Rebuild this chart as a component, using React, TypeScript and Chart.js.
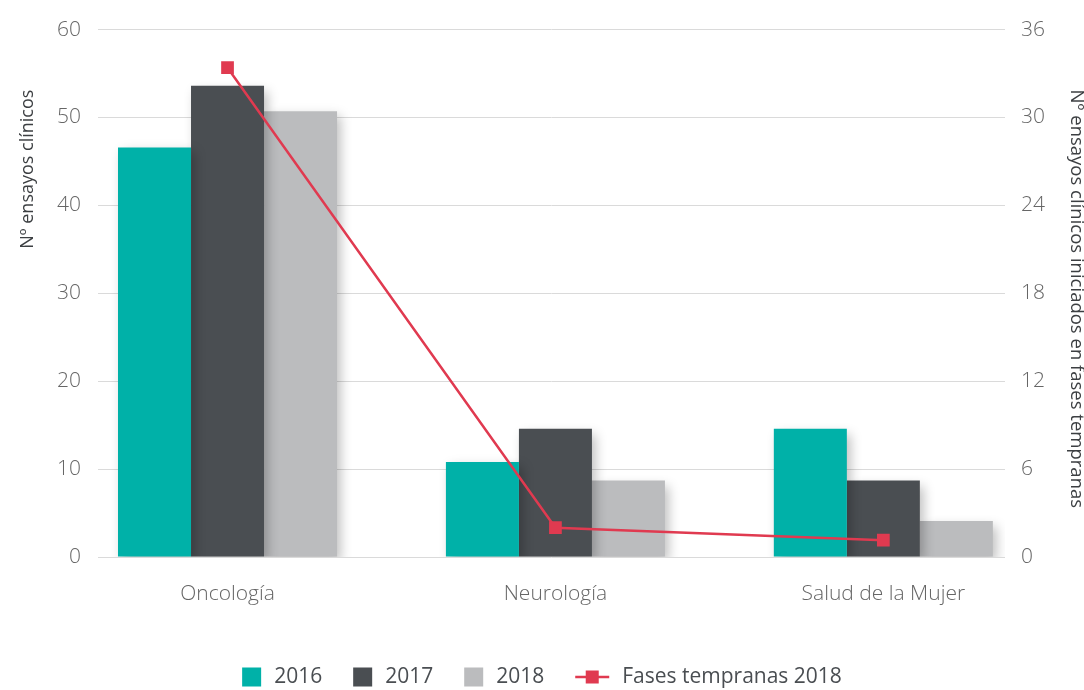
import React, { useEffect, useRef } from 'react';
import { Chart, registerables } from 'chart.js';

Chart.register(...registerables);

// ---------- data ----------
const CATEGORIES = ['Oncología', 'Neurología', 'Salud de la Mujer'];
const SERIES_LABELS = ['2016', '2017', '2018'];
const VALUES_2016 = [46.6, 10.8, 14.6];
const VALUES_2017 = [53.6, 14.6, 8.7];
const VALUES_2018 = [50.7, 8.7, 4.1];
const LINE_LABEL = 'Fases tempranas 2018';
const EARLY_PHASE_2018 = [33.4, 2.0, 1.15];
const LEFT_AXIS_TITLE = 'Nº ensayos clínicos';
const RIGHT_AXIS_TITLE = 'Nº ensayos clínicos iniciados en fases tempranas';
const LEFT_MAX = 60;
const LEFT_STEP = 10;
const RIGHT_MAX = 36;
const RIGHT_STEP = 6;

// ---------- style ----------
const FONT = '"Open Sans", "DejaVu Sans", sans-serif';
const COLORS = ['#00B1A8', '#4A4E52', '#BBBCBE'];
const RED = '#E03A50';
const GRID = '#DADADA';
const TICK_COLOR = '#666666';
const TEXT_COLOR = '#3c3f42';

const shadowPlugin = {
  id: 'barShadow',
  beforeDatasetDraw(chart: any, args: any) {
    const ds = chart.data.datasets[args.index];
    if (ds.type === 'line') return;
    const ctx = chart.ctx;
    ctx.save();
    ctx.shadowColor = 'rgba(0,0,0,0.26)';
    ctx.shadowBlur = 11;
    ctx.shadowOffsetX = 4;
    ctx.shadowOffsetY = 5;
  },
  afterDatasetDraw(chart: any, args: any) {
    const ds = chart.data.datasets[args.index];
    if (ds.type === 'line') return;
    chart.ctx.restore();
  },
};

const titlePlugin = {
  id: 'axisTitles',
  afterDraw(chart: any) {
    const ctx = chart.ctx;
    const top = chart.chartArea.top + 60;
    ctx.save();
    ctx.fillStyle = TEXT_COLOR;
    ctx.textBaseline = 'middle';
    // left
    ctx.save();
    ctx.font = `400 18px ${FONT}`;
    ctx.translate(28, top);
    ctx.rotate(-Math.PI / 2);
    ctx.textAlign = 'right';
    ctx.fillText(LEFT_AXIS_TITLE, 0, 0);
    ctx.restore();
    // right
    ctx.save();
    ctx.font = `400 18.5px ${FONT}`;
    ctx.translate(chart.width - 8, top);
    ctx.rotate(Math.PI / 2);
    ctx.textAlign = 'left';
    ctx.fillText(RIGHT_AXIS_TITLE, 0, 0);
    ctx.restore();
    ctx.restore();
  },
};

const legendPlugin = {
  id: 'bottomLegend',
  afterDraw(chart: any) {
    const ctx = chart.ctx;
    ctx.save();
    ctx.font = `400 21px ${FONT}`;
    const cy = chart.height - 13;
    const all = chart.data.datasets.map((ds: any) => ({
      text: ds.label,
      isLine: ds.type === 'line',
      color: ds.type === 'line' ? ds.borderColor : ds.backgroundColor,
    }));
    const items = all.filter((it: any) => !it.isLine).concat(all.filter((it: any) => it.isLine));
    const BOX = 19, LINE_W = 34, GAP_TEXT = 13, GAP_ITEM = 31;
    const widths = items.map((it: any) => (it.isLine ? LINE_W : BOX) + GAP_TEXT + ctx.measureText(it.text).width);
    const total = widths.reduce((a: number, b: number) => a + b, 0) + GAP_ITEM * (items.length - 1);
    let x = (chart.width - total) / 2;
    items.forEach((it: any, i: number) => {
      if (it.isLine) {
        ctx.strokeStyle = it.color;
        ctx.lineWidth = 2.5;
        ctx.beginPath();
        ctx.moveTo(x, cy);
        ctx.lineTo(x + LINE_W, cy);
        ctx.stroke();
        ctx.fillStyle = it.color;
        ctx.fillRect(x + LINE_W / 2 - 6.5, cy - 6.5, 13, 13);
      } else {
        ctx.fillStyle = it.color;
        ctx.fillRect(x, cy - BOX / 2, BOX, BOX);
      }
      const tx = x + (it.isLine ? LINE_W : BOX) + GAP_TEXT;
      ctx.fillStyle = '#4a4e52';
      ctx.textAlign = 'left';
      ctx.textBaseline = 'middle';
      ctx.fillText(it.text, tx, cy);
      x += widths[i] + GAP_ITEM;
    });
    ctx.restore();
  },
};

function setCategoryRange(s: any) {
  s._startValue = -0.395;
  s._valueRange = 2.766;
}

export default function App() {
  const ref = useRef<HTMLCanvasElement>(null);
  useEffect(() => {
    document.body.style.margin = '0';
    const chart = new Chart(ref.current as HTMLCanvasElement, {
      type: 'bar',
      data: {
        labels: CATEGORIES,
        datasets: [
          {
            type: 'line',
            label: LINE_LABEL,
            data: EARLY_PHASE_2018,
            yAxisID: 'y1',
            borderColor: RED,
            backgroundColor: RED,
            borderWidth: 2.5,
            pointStyle: 'rect',
            pointRadius: 9,
            pointBorderWidth: 0,
            pointBackgroundColor: RED,
            tension: 0,
            order: 0,
          } as any,
          { type: 'bar', label: SERIES_LABELS[0], data: VALUES_2016, backgroundColor: COLORS[0], yAxisID: 'y', order: 1 },
          { type: 'bar', label: SERIES_LABELS[1], data: VALUES_2017, backgroundColor: COLORS[1], yAxisID: 'y', order: 1 },
          { type: 'bar', label: SERIES_LABELS[2], data: VALUES_2018, backgroundColor: COLORS[2], yAxisID: 'y', order: 1 },
        ],
      },
      options: {
        animation: false,
        responsive: true,
        maintainAspectRatio: false,
        layout: { padding: { top: 28, left: 0, right: 0, bottom: 0 } },
        datasets: { bar: { categoryPercentage: 0.668, barPercentage: 1 } },
        plugins: { legend: { display: false }, tooltip: { enabled: false }, title: { display: false } },
        scales: {
          x: {
            type: 'category',
            grid: { display: false, drawTicks: false },
            border: { display: false },
            ticks: { padding: 24, color: TICK_COLOR, font: { family: FONT, size: 21, weight: '300' as any }, maxRotation: 0, autoSkip: false },
            afterBuildTicks: setCategoryRange,
            afterUpdate: setCategoryRange,
            afterFit: (s: any) => { s.height = 133; },
          } as any,
          y: {
            position: 'left',
            min: 0,
            max: LEFT_MAX,
            ticks: { stepSize: LEFT_STEP, padding: 17, color: TICK_COLOR, font: { family: FONT, size: 21, weight: '300' as any } },
            grid: { color: GRID, lineWidth: 1, drawTicks: false },
            border: { display: false },
            afterFit: (s: any) => { s.width = 98; },
          } as any,
          y1: {
            position: 'right',
            min: 0,
            max: RIGHT_MAX,
            ticks: { stepSize: RIGHT_STEP, padding: 16, color: TICK_COLOR, font: { family: FONT, size: 21, weight: '300' as any } },
            grid: { display: false, drawTicks: false },
            border: { display: false },
            afterFit: (s: any) => { s.width = 79; },
          } as any,
        },
      },
      plugins: [shadowPlugin, titlePlugin, legendPlugin],
    });
    return () => chart.destroy();
  }, []);
  return (
    <div style={{ width: 1084, height: 690, position: 'relative', overflow: 'hidden' }}>
      <canvas ref={ref} />
    </div>
  );
}
